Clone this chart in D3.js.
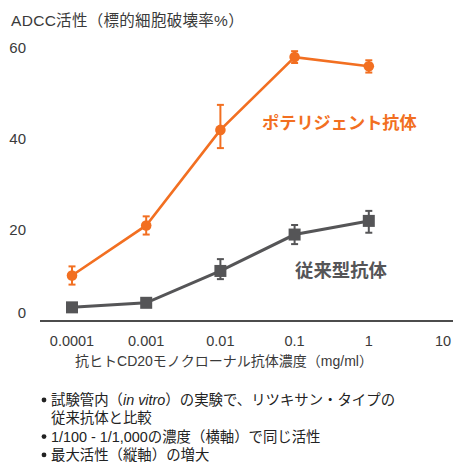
<!DOCTYPE html>
<html>
<head>
<meta charset="utf-8">
<script src="https://cdn.jsdelivr.net/npm/d3@7"></script>
<style>
  html, body { margin: 0; padding: 0; background: #fff; }
  svg { display: block; }
  text { font-family: "Liberation Sans", "Noto Sans CJK JP", sans-serif; }
</style>
</head>
<body>
<svg id="chart" width="453" height="464"></svg>
<script>
// Antibody concentration (mg/ml) and ADCC activity (% target cell lysis)
const concentrations = [0.0001, 0.001, 0.01, 0.1, 1];
const potelligent = [10, 21, 42, 58, 56];
const potelligentErrUp = [2, 2, 5.5, 1.3, 1.3];
const potelligentErrDown = [2, 2, 4, 1.3, 1.4];
const conventional = [3, 4, 11, 19, 22];
const conventionalErrUp = [0.8, 0.8, 2.6, 2.1, 2.2];
const conventionalErrDown = [0.8, 0.8, 1.8, 2.1, 2.6];

const xTicks = [0.0001, 0.001, 0.01, 0.1, 1, 10];
const xTickLabels = ["0.0001", "0.001", "0.01", "0.1", "1", "10"];
const yTicks = [0, 20, 40, 60];

const yTitle = "ADCC活性（標的細胞破壊率%）";
const xTitle = "抗ヒトCD20モノクローナル抗体濃度（mg/ml）";
const seriesNames = ["ポテリジェント抗体", "従来型抗体"];
const notes = [
  [true, "試験管内（", "in vitro", "）の実験で、リツキサン・タイプの"],
  [false, "従来抗体と比較"],
  [true, "1/100 - 1/1,000の濃度（横軸）で同じ活性"],
  [true, "最大活性（縦軸）の増大"]
];

const ORANGE = "#f26f21";
const GRAY = "#555557";

const svg = d3.select("#chart");

const x = d3.scaleLog().domain([0.0001, 10]).range([72, 443]);
const y = d3.scaleLinear().domain([0, 60]).range([321, 48]);

// y-axis title
svg.append("text")
  .attr("x", 11).attr("y", 26)
  .attr("font-size", 15.5).attr("letter-spacing", 0.3).attr("fill", "#3a3a3a")
  .text(yTitle);

// y tick labels (no axis line)
svg.append("g").selectAll("text")
  .data(yTicks).join("text")
  .attr("x", 26)
  .attr("y", d => y(d))
  .attr("dy", d => d === 0 ? "-0.2em" : "0.35em")
  .attr("text-anchor", "end")
  .attr("font-size", 15).attr("fill", "#3a3a3a")
  .text(d => d);

// x baseline
svg.append("line")
  .attr("x1", x(x.invert(40))).attr("x2", x(x.invert(453)))
  .attr("y1", y(0)).attr("y2", y(0))
  .attr("stroke", "#111").attr("stroke-width", 1.5);

// x tick labels
svg.append("g").selectAll("text")
  .data(xTicks).join("text")
  .attr("x", d => x(d))
  .attr("y", 346)
  .attr("text-anchor", "middle")
  .attr("font-size", 14.5).attr("fill", "#3a3a3a")
  .text((d, i) => xTickLabels[i]);

// x-axis title
svg.append("text")
  .attr("x", 224).attr("y", 366)
  .attr("text-anchor", "middle")
  .attr("font-size", 14).attr("fill", "#3a3a3a")
  .text(xTitle);

function drawSeries(values, errUp, errDown, color, marker) {
  const g = svg.append("g");
  const pts = concentrations.map((c, i) => ({ c, v: values[i], up: errUp[i], down: errDown[i] }));

  g.append("path")
    .datum(pts)
    .attr("fill", "none")
    .attr("stroke", color)
    .attr("stroke-width", marker === "circle" ? 2.6 : 3)
    .attr("d", d3.line().x(d => x(d.c)).y(d => y(d.v)));

  const eb = g.selectAll("g.err").data(pts).join("g").attr("class", "err");
  eb.append("line")
    .attr("x1", d => x(d.c)).attr("x2", d => x(d.c))
    .attr("y1", d => y(d.v + d.up)).attr("y2", d => y(d.v - d.down))
    .attr("stroke", color).attr("stroke-width", 2);
  eb.append("line")
    .attr("x1", d => x(d.c) - 3.5).attr("x2", d => x(d.c) + 3.5)
    .attr("y1", d => y(d.v + d.up)).attr("y2", d => y(d.v + d.up))
    .attr("stroke", color).attr("stroke-width", 2);
  eb.append("line")
    .attr("x1", d => x(d.c) - 3.5).attr("x2", d => x(d.c) + 3.5)
    .attr("y1", d => y(d.v - d.down)).attr("y2", d => y(d.v - d.down))
    .attr("stroke", color).attr("stroke-width", 2);

  if (marker === "circle") {
    g.selectAll("circle").data(pts).join("circle")
      .attr("cx", d => x(d.c)).attr("cy", d => y(d.v))
      .attr("r", 5.3).attr("fill", color);
  } else {
    g.selectAll("rect").data(pts).join("rect")
      .attr("x", d => x(d.c) - 6).attr("y", d => y(d.v) - 6)
      .attr("width", 12).attr("height", 12).attr("fill", color);
  }
}

drawSeries(conventional, conventionalErrUp, conventionalErrDown, GRAY, "square");
drawSeries(potelligent, potelligentErrUp, potelligentErrDown, ORANGE, "circle");

// series labels
svg.append("text")
  .attr("x", 262).attr("y", 129)
  .attr("font-size", 17.2).attr("font-weight", "bold").attr("fill", ORANGE)
  .attr("font-family", "'Noto Sans CJK JP', sans-serif")
  .text(seriesNames[0]);
svg.append("text")
  .attr("x", 295).attr("y", 277)
  .attr("font-size", 18.4).attr("font-weight", "bold").attr("fill", GRAY)
  .attr("font-family", "'Noto Sans CJK JP', sans-serif")
  .text(seriesNames[1]);

// notes below the chart
const noteG = svg.append("g");
notes.forEach((line, i) => {
  const yy = 405 + i * 18.3;
  if (line[0]) {
    noteG.append("circle").attr("cx", 44).attr("cy", yy - 5)
      .attr("r", 2.4).attr("fill", "#222");
  }
  const t = noteG.append("text").attr("x", 51).attr("y", yy)
    .attr("font-size", 14.4).attr("fill", "#222");
  line.slice(1).forEach(part => {
    const span = t.append("tspan").text(part);
    if (part === "in vitro") span.attr("font-style", "italic");
  });
});
</script>
</body>
</html>
